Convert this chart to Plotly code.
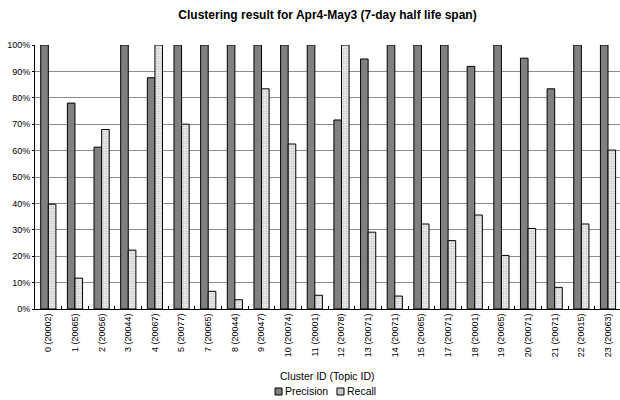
import plotly.graph_objects as go

# Cluster labels: cluster ID with matched topic ID
clusters = [
    "0 (20002)", "1 (20065)", "2 (20056)", "3 (20044)", "4 (20067)", "5 (20077)",
    "7 (20065)", "8 (20044)", "9 (20047)", "10 (20074)", "11 (20001)", "12 (20078)",
    "13 (20071)", "14 (20071)", "15 (20065)", "17 (20071)", "18 (20001)", "19 (20065)",
    "20 (20071)", "21 (20071)", "22 (20015)", "23 (20063)",
]

# Precision and recall per cluster, as fractions
precision = [1.00, 0.78, 0.613, 1.00, 0.876, 1.00, 1.00, 1.00, 1.00, 1.00, 1.00,
             0.716, 0.947, 1.00, 1.00, 1.00, 0.919, 1.00, 0.950, 0.834, 1.00, 1.00]
recall = [0.397, 0.117, 0.680, 0.223, 1.00, 0.700, 0.067, 0.035, 0.834, 0.625, 0.052,
          1.00, 0.291, 0.049, 0.322, 0.259, 0.356, 0.203, 0.305, 0.082, 0.322, 0.602]

y_ticks = [i / 10 for i in range(11)]

font_main = "Liberation Sans"
prec_color = "#808080"

fig = go.Figure()
fig.add_trace(go.Bar(
    name="Precision", x=clusters, y=precision,
    marker=dict(color=prec_color, line=dict(color="black", width=1)),
))
fig.add_trace(go.Bar(
    name="Recall", x=clusters, y=recall,
    marker=dict(
        color="white",
        line=dict(color="black", width=1),
        pattern=dict(shape=".", fgcolor="#8a8a8a", bgcolor="white", size=2.5, solidity=0.55),
    ),
))

# Compact legend below the axis title: small swatches followed by labels
legend_items = [
    ("Precision", prec_color, 0.4103, 0.4239),
    ("Recall", "#c4c4c4", 0.5162, 0.5299),
]
shapes, annotations = [], []
for label, fill, sx, tx in legend_items:
    shapes.append(dict(
        type="rect", xref="paper", yref="paper",
        x0=sx, x1=sx + 0.012, y0=-0.3258, y1=-0.2992,
        fillcolor=fill, line=dict(color="black", width=1),
    ))
    annotations.append(dict(
        text=label, xref="paper", yref="paper", x=tx, y=-0.3106,
        xanchor="left", yanchor="middle", showarrow=False,
        font=dict(family=font_main, size=10.5, color="black"),
    ))
annotations.append(dict(
    text="Cluster ID (Topic ID)", xref="paper", yref="paper",
    x=0.5, y=-0.254, xanchor="center", yanchor="middle", showarrow=False,
    font=dict(family=font_main, size=10.5, color="black"),
))

fig.update_layout(
    width=620, height=400,
    margin=dict(l=35, r=0, t=45, b=91, autoexpand=False),
    paper_bgcolor="white", plot_bgcolor="white",
    barmode="group", bargap=0.43, bargroupgap=0,
    showlegend=False,
    title=dict(
        text="<b>Clustering result for Apr4-May3 (7-day half life span)</b>",
        x=0.5, xref="paper", xanchor="center", y=0.963, yanchor="middle",
        font=dict(family=font_main, size=12, color="black"),
    ),
    shapes=shapes,
    annotations=annotations,
)

fig.update_xaxes(
    type="category", range=[-0.5, 21.45], automargin=False,
    tickangle=-90, tickfont=dict(family=font_main, size=9, color="black"),
    showline=True, linecolor="black", linewidth=1,
    ticks="inside", ticklen=3, tickcolor="black", tickson="boundaries",
    showgrid=False,
)
fig.update_yaxes(
    range=[0, 1], tickvals=y_ticks, tickformat=".0%", automargin=False,
    tickfont=dict(family=font_main, size=9, color="black"),
    showline=True, linecolor="black", linewidth=1,
    ticks="outside", ticklen=2, tickcolor="black",
    showgrid=True, gridcolor="#8c8c8c", gridwidth=1, zeroline=False,
)

fig.write_html("out.html")
